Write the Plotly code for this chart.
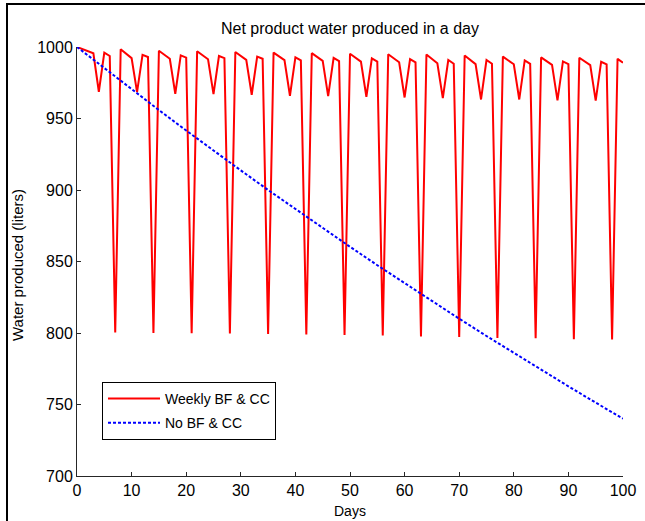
import plotly.graph_objects as go

# ---- data ----
days = list(range(0, 101))
weekly_bf_cc = [
    1000.0, 998.5, 997.0, 995.6, 968.7, 996.0, 993.7, 800.3,
    998.4, 995.3, 992.2, 968.5, 994.5, 993.0, 800.1,
    997.4, 994.6, 991.8, 967.3, 994.1, 992.6, 799.8,
    997.0, 994.2, 991.4, 967.0, 993.7, 992.2, 799.6,
    996.5, 993.8, 991.0, 966.6, 993.3, 991.8, 799.3,
    996.1, 993.5, 990.8, 965.9, 992.7, 990.6, 799.0,
    995.7, 993.0, 990.3, 965.6, 992.4, 990.2, 798.6,
    995.3, 992.6, 989.8, 965.2, 992.0, 989.8, 798.2,
    994.9, 992.1, 989.3, 964.7, 991.5, 989.3, 797.6,
    994.8, 991.7, 988.6, 964.2, 990.9, 988.3, 797.2,
    994.0, 991.0, 988.0, 963.3, 990.9, 988.3, 796.6,
    993.3, 990.6, 987.9, 963.3, 990.6, 988.2, 796.3,
    992.7, 990.1, 987.5, 962.7, 989.9, 988.0, 795.7,
    992.5, 989.9, 987.3, 962.5, 989.7, 987.8, 795.5,
    991.7, 989.0,
]
no_bf_days = [0, 5, 10, 15, 20, 25, 30, 35, 40, 45, 50, 55, 60, 65, 70, 75, 80, 85, 90, 95, 100]
no_bf_cc = [1000.0, 985.1, 970.4, 955.9, 941.6, 927.5, 913.7, 900.0, 886.6, 873.3, 860.3,
            847.4, 834.8, 822.3, 810.0, 797.9, 786.0, 774.3, 762.7, 751.3, 740.1]
x_ticks = [0, 10, 20, 30, 40, 50, 60, 70, 80, 90, 100]
y_ticks = [700, 750, 800, 850, 900, 950, 1000]

FONT = "Liberation Sans, Arial, sans-serif"
W, H = 645, 521
L, R, T, B = 77, 22, 47, 45
pw, ph = W - L - R, H - T - B


def px_x(p):
    return (p - L) / pw


def px_y(p):
    return (H - B - p) / ph


fig = go.Figure()
fig.add_trace(go.Scatter(x=days, y=weekly_bf_cc, mode="lines", name="Weekly BF & CC",
                         legendgroup="a", line=dict(color="#FF0000", width=2)))
fig.add_trace(go.Scatter(x=no_bf_days, y=no_bf_cc, mode="lines", name="No BF & CC",
                         legendgroup="b",
                         line=dict(color="#0000FF", width=2, dash="3px,2px")))

axis_common = dict(showgrid=False, zeroline=False, showline=True, linecolor="#262626",
                   linewidth=1, ticks="inside", ticklen=4, tickcolor="#262626",
                   tickfont=dict(family=FONT, size=16, color="#000000"), mirror=False)
fig.update_xaxes(range=[0, 100], tickvals=x_ticks, **axis_common)
fig.update_yaxes(range=[700, 1000], tickvals=y_ticks, **axis_common)

fig.update_layout(
    width=W, height=H,
    margin=dict(l=L, r=R, t=T, b=B, autoexpand=False),
    paper_bgcolor="white", plot_bgcolor="white",
    font=dict(family=FONT, color="#000000"),
    showlegend=True,
    legend=dict(x=px_x(102), y=px_y(382), xanchor="left", yanchor="top",
                bgcolor="white", bordercolor="#000000", borderwidth=1,
                font=dict(family=FONT, size=14), traceorder="grouped",
                tracegroupgap=3, itemwidth=52),
    annotations=[
        dict(text="Net product water produced in a day", xref="paper", yref="paper",
             x=0.5, y=px_y(28), xanchor="center", yanchor="middle", showarrow=False,
             font=dict(family=FONT, size=16)),
        dict(text="Days", xref="paper", yref="paper", x=0.5, y=px_y(511),
             xanchor="center", yanchor="middle", showarrow=False,
             font=dict(family=FONT, size=14)),
        dict(text="Water produced (liters)", xref="paper", yref="paper", x=px_x(17),
             y=px_y(265), xanchor="center", yanchor="middle", textangle=-90,
             showarrow=False, font=dict(family=FONT, size=15)),
    ],
    shapes=[
        dict(type="line", xref="paper", yref="paper", x0=px_x(7), x1=px_x(7),
             y0=px_y(3), y1=px_y(521), line=dict(color="#000000", width=2)),
        dict(type="line", xref="paper", yref="paper", x0=px_x(6), x1=px_x(645),
             y0=px_y(4), y1=px_y(4), line=dict(color="#000000", width=2)),
    ],
)

fig.write_html("out.html", config={"displayModeBar": False})
